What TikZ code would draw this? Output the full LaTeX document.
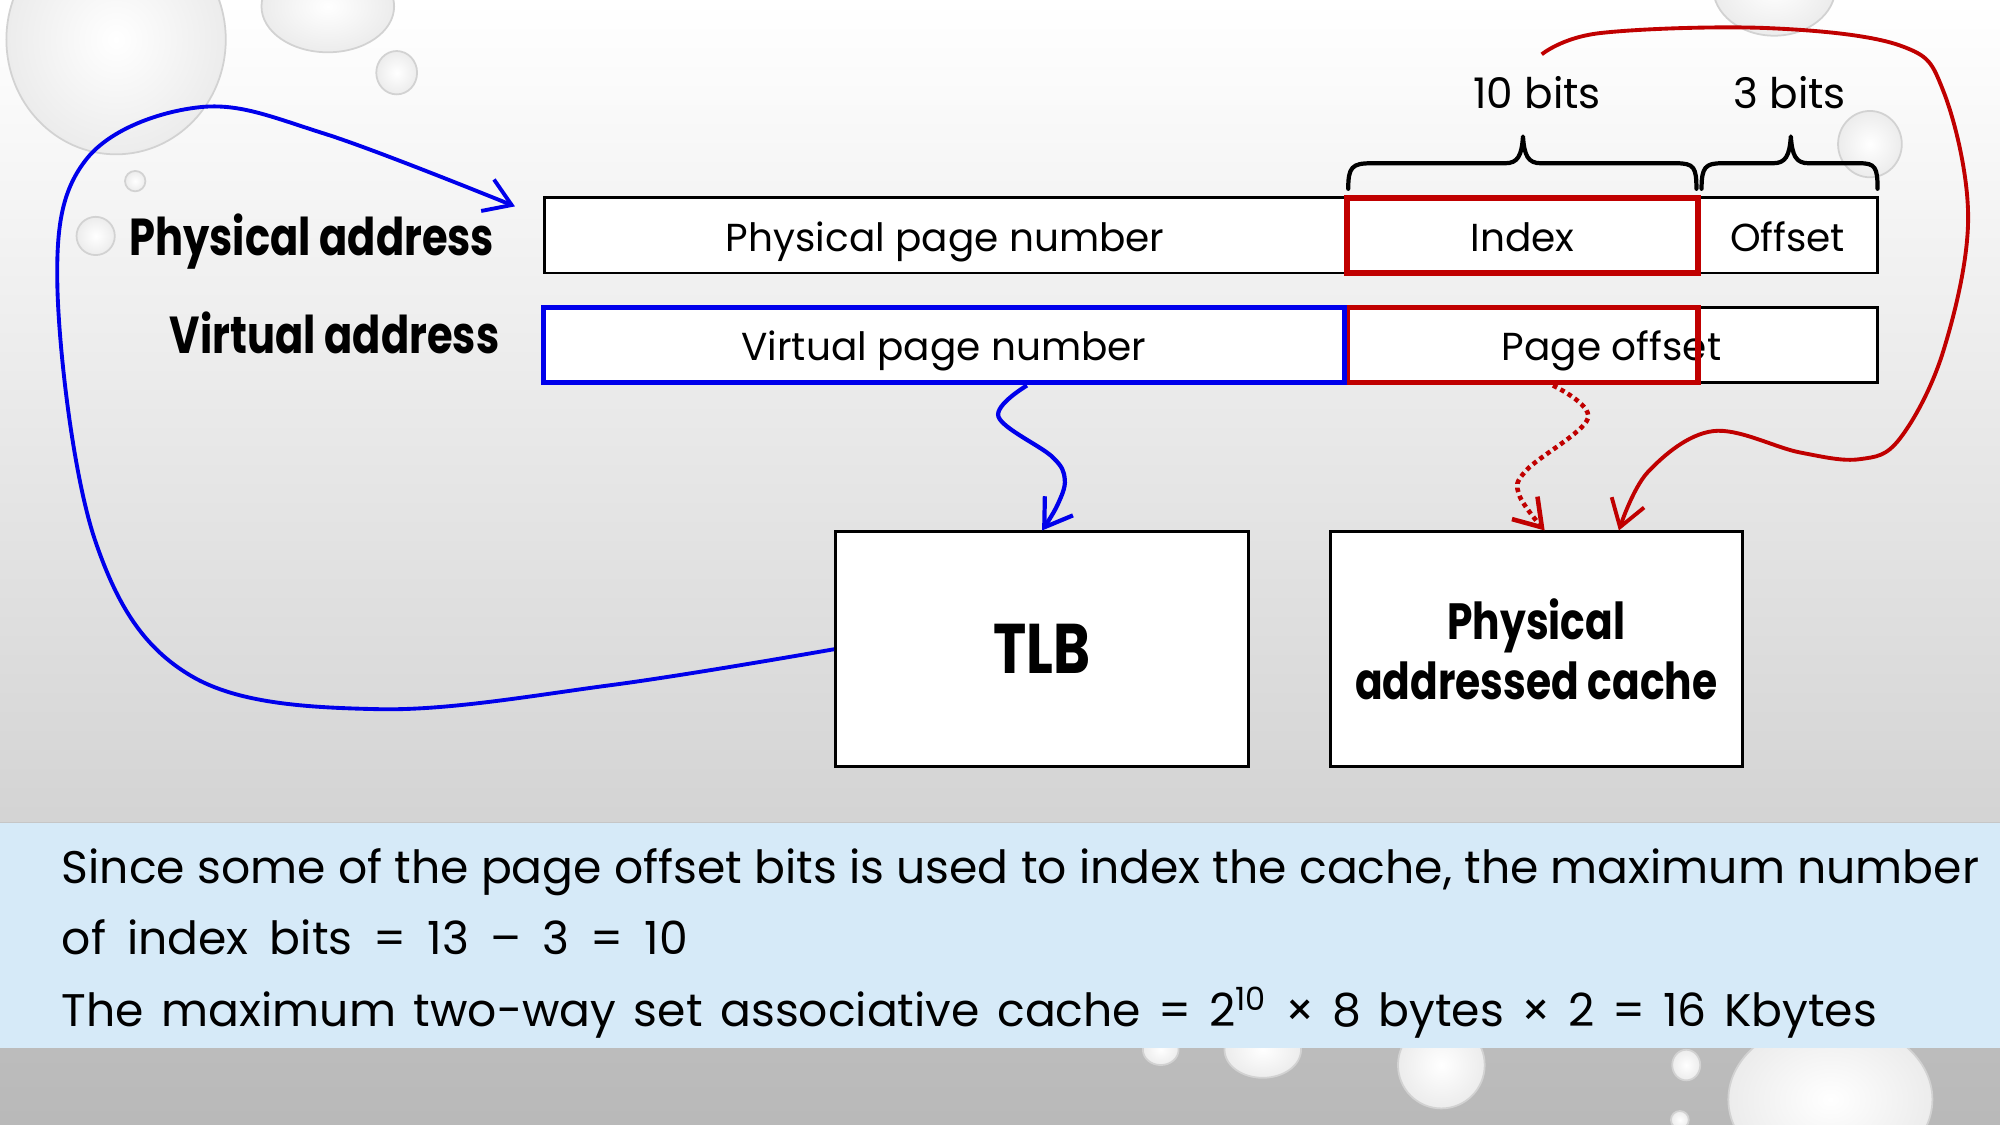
\documentclass[tikz,border=0pt]{standalone}
\usepackage{fontspec}
\setmainfont{Poppins}
\newfontfamily\heavyfont{Poppins}[FakeStretch=0.8]
\usetikzlibrary{calc,arrows.meta}
\definecolor{myblue}{RGB}{0,0,235}
\definecolor{myred}{RGB}{192,0,0}
\definecolor{bandblue}{RGB}{214,234,248}
\def\pxu{0.0127551cm}
\begin{document}
\begin{tikzpicture}[x=0.0127551cm,y=-0.0127551cm,
  celltext/.style={font=\fontsize{11.1}{14}\selectfont, text height=0.9em, text depth=0pt},
  cell/.style={draw=black, line width=0.7pt, fill=white, minimum height=59*\pxu, inner sep=0pt, celltext},
  redcell/.style={draw=myred, line width=1.6pt, minimum height=59*\pxu, minimum width=275*\pxu, inner sep=0pt, celltext},
  bluecell/.style={draw=myblue, line width=1.6pt, fill=white, minimum height=59*\pxu, inner sep=0pt, celltext},
  bigbox/.style={draw=black, line width=0.8pt, fill=white, minimum height=184*\pxu, inner sep=0pt, align=center},
  heavy/.style={font=\heavyfont\bfseries\fontsize{14.8}{16}\selectfont, inner sep=0pt},
  bits/.style={font=\fontsize{12}{14}\selectfont, inner sep=0pt},
  notetext/.style={font=\fontsize{13}{15}\selectfont, anchor=base west, inner sep=0pt},
  bracepath/.style={line width=1.2pt, line cap=round, line join=round},
  arr/.style={-{Straight Barb[length=2.6mm,width=3.4mm]}},
  drop/.style={inner color=white, outer color=gray!15, draw=gray!35, line width=0.5pt}
]
\useasboundingbox (0,0) rectangle (1568,882);
% background
\shade[top color=white, bottom color=gray!34!white] (0,0) rectangle (1568,645);
\shade[top color=gray!45!white, bottom color=gray!55!white] (0,645) rectangle (1568,882);
% water drops
\shadedraw[drop] (91,31) ellipse [x radius=86, y radius=90];
\shadedraw[drop] (257,5) ellipse [x radius=52, y radius=36];
\shadedraw[drop] (311,57) ellipse [x radius=16, y radius=17];
\shadedraw[drop] (106,142) ellipse [x radius=8, y radius=8];
\shadedraw[drop] (75,185) ellipse [x radius=15, y radius=15];
\shadedraw[drop] (1391,-10) ellipse [x radius=48, y radius=38];
\shadedraw[drop] (1466,113) ellipse [x radius=25, y radius=26];
\shadedraw[drop] (910,823) ellipse [x radius=14, y radius=12];
\shadedraw[drop] (990,823) ellipse [x radius=30, y radius=22];
\shadedraw[drop] (1130,835) ellipse [x radius=34, y radius=34];
\shadedraw[drop] (1322,835) ellipse [x radius=11, y radius=12];
\shadedraw[drop] (1435,862) ellipse [x radius=80, y radius=62];
\shadedraw[drop] (1317,878) ellipse [x radius=7, y radius=7];
% note band
\fill[bandblue] (0,645) rectangle (1568,822);
\node[notetext] (note1) at (48,693) {Since some of the page offset bits is used to index the cache, the maximum number};
\node[notetext] (note2) at (48,748.5) {\spaceskip=6pt of index bits = 13 – 3 = 10};
\node[notetext] (note3) at (48,804.5) {\spaceskip=5pt The maximum two-way set associative cache = 2\textsuperscript{10} × 8 bytes × 2 = 16 Kbytes};
% labels
\node[heavy, anchor=east] (plab) at (388,189) {Physical address};
\node[heavy, anchor=east] (vlab) at (392,261) {Virtual address};
% physical address row
\node[cell, minimum width=628*\pxu] (ppn) at (741,184.5) {Physical page number};
\node[cell, minimum width=141*\pxu] (off) at (1401.5,184.5) {Offset};
\node[redcell, fill=white] (idx) at (1193.5,184.5) {Index};
% virtual address row
\node[cell, minimum width=417*\pxu] (pgoff) at (1263.5,270.5) {Page offset};
\node[redcell] (poidx) at (1193.5,270.5) {};
\node[bluecell, minimum width=628*\pxu] (vpn) at (740,270.5) {Virtual page number};
% braces
\draw[bracepath] (1057,148) .. controls (1057,131) and (1060,128) .. (1075,128) -- (1180,128) .. controls (1190,128) and (1193,122) .. (1194,107) .. controls (1195,122) and (1198,128) .. (1208,128) -- (1314,128) .. controls (1328,128) and (1330,131) .. (1330,148);
\draw[bracepath] (1334,148) .. controls (1334,131) and (1337,128) .. (1350,128) -- (1390,128) .. controls (1400,128) and (1403,122) .. (1404,107) .. controls (1405,122) and (1408,128) .. (1418,128) -- (1458,128) .. controls (1470,128) and (1472,131) .. (1472,148);
\node[bits] (b10) at (1205,73) {10 bits};
\node[bits] (b3) at (1403,73) {3 bits};
% boxes
\node[bigbox, minimum width=324*\pxu, font=\heavyfont\bfseries\fontsize{20}{22}\selectfont] (tlb) at (817,509) {TLB};
\node[bigbox, minimum width=323*\pxu, font=\heavyfont\bfseries\fontsize{14.5}{17}\selectfont] (cache) at (1204.5,509) {Physical\\addressed cache};
% connector anchors
\coordinate (vs) at ($(vpn.south west)!0.603!(vpn.south east)$);
\coordinate (ps) at ($(poidx.south west)!0.586!(poidx.south east)$);
\coordinate (ct1) at ($(cache.north west)!0.52!(cache.north east)$);
\coordinate (ct2) at ($(cache.north west)!0.699!(cache.north east)$);
\coordinate (rs) at (1208.7,42.6);
\coordinate (pa) at (403.7,161.8);
% arrows
\draw[myblue, line width=1.2pt, arr] plot[smooth, tension=0.6] coordinates {(vs) (782.8,326.7) (824.8,358) (834.8,376) (829,396) (tlb.north)};
\draw[myred, line width=1.3pt, dash pattern=on 1.3pt off 1.1pt, arr] plot[smooth, tension=0.6] coordinates {(ps) (1244.9,328) (1196.8,368.5) (1191,388) (ct1)};
\draw[myred, line width=1.1pt, arr] plot[smooth, tension=0.6] coordinates {(rs) (1254,26) (1385,22) (1489.6,35.7) (1523.6,71.5) (1543,170.5) (1523.6,275) (1489.6,343.7) (1458,360) (1411,354.7) (1343,338) (1292,370) (ct2)};
\draw[myblue, line width=1.1pt, arr] plot[smooth, tension=0.6] coordinates {(tlb.west) (480,537) (297,556) (150,530) (75,425) (45,225) (68,124.5) (157,84) (255,105) (pa)};
\end{tikzpicture}
\end{document}
